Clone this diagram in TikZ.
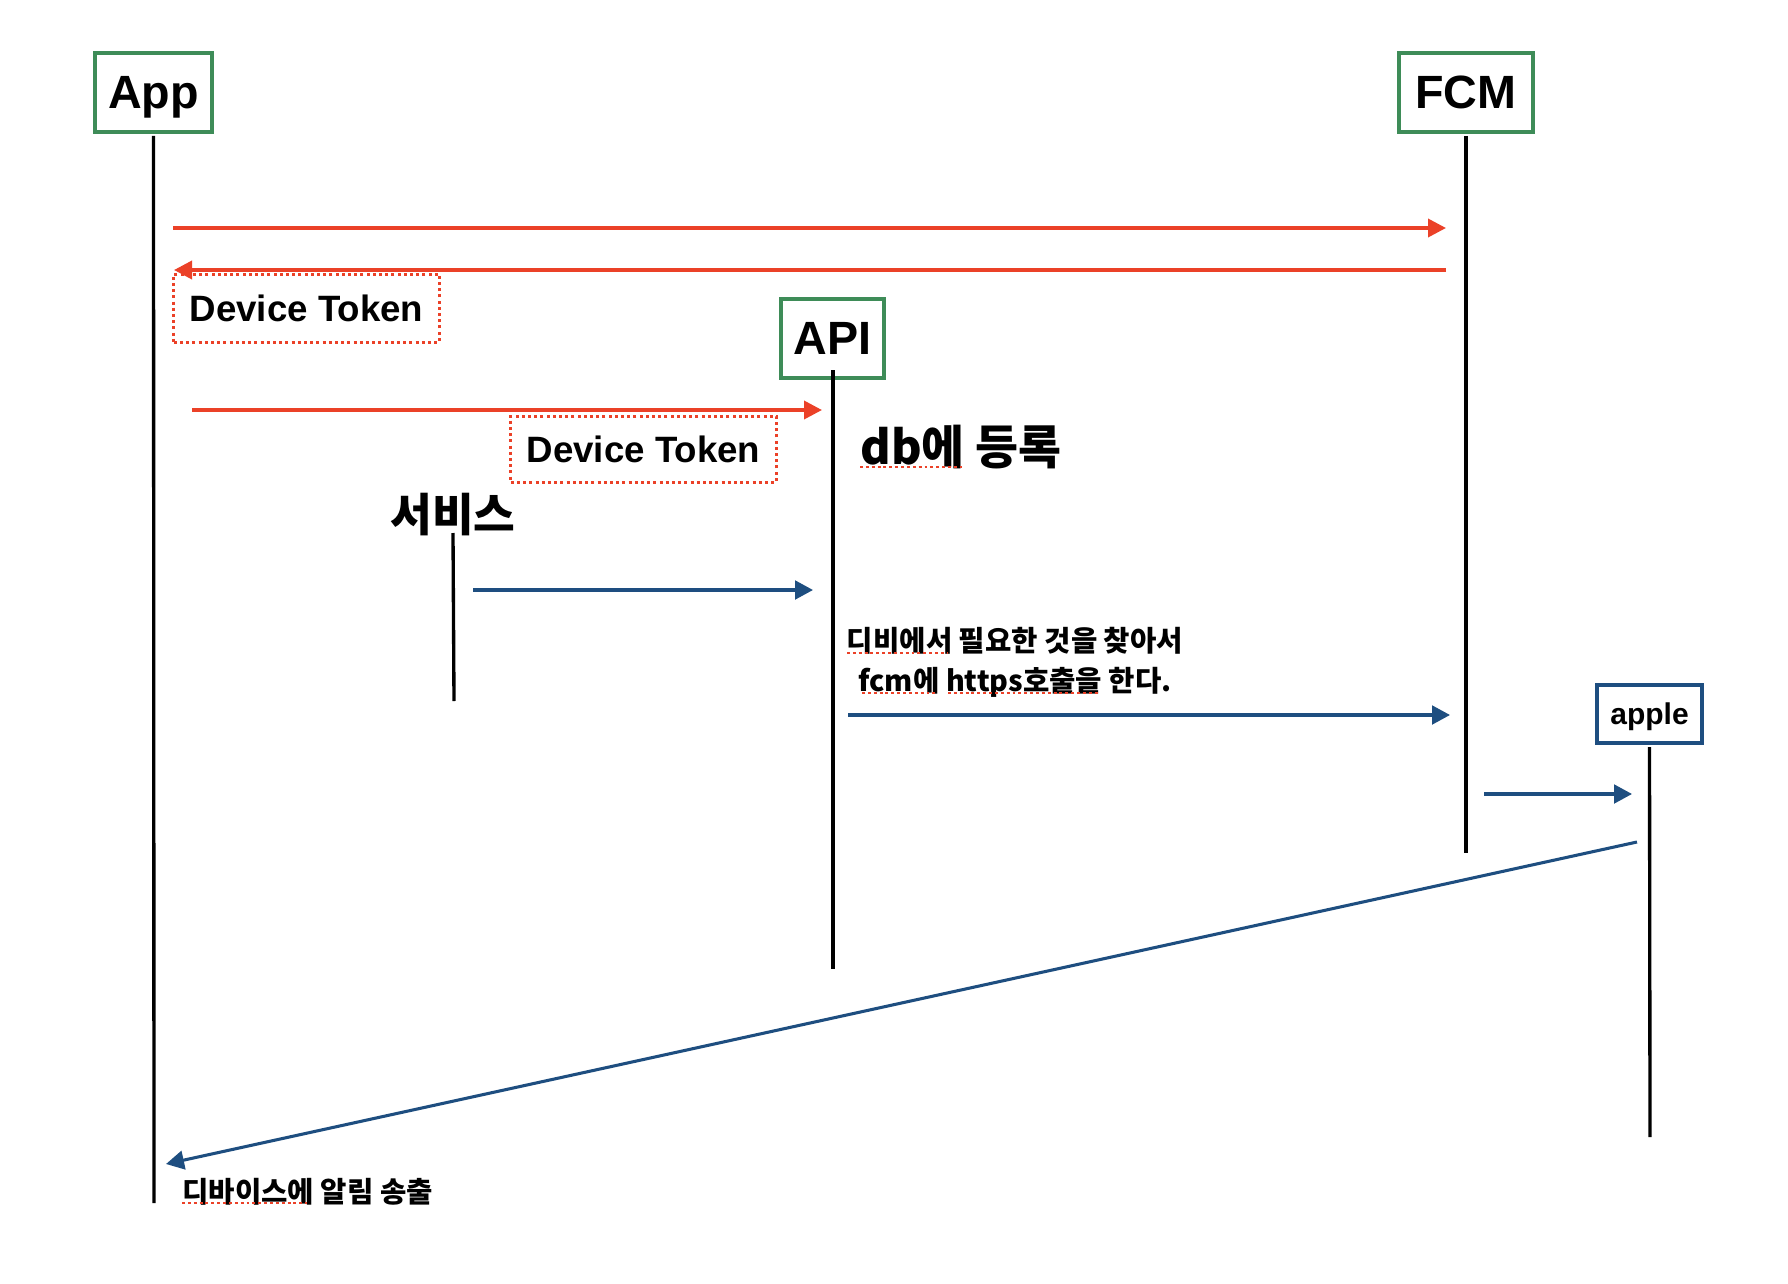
\documentclass[tikz,border=0pt]{standalone}
\usepackage{fontspec}
\setmainfont{Liberation Sans}
\newfontfamily\kr{Noto Sans CJK KR}
\usetikzlibrary{arrows.meta}

\definecolor{boxgreen}{RGB}{62,140,88}
\definecolor{tokred}{RGB}{235,65,40}
\definecolor{pushblue}{RGB}{30,78,128}

\tikzset{every picture/.style={line width=0.75pt}}
\tikzset{
  actor/.style={draw=boxgreen, line width=3pt, inner sep=0pt, text depth=0pt, font=\fontsize{35}{40}\selectfont\bfseries},
  tokenbox/.style={draw=tokred, line width=2.25pt, dash pattern=on 2.25pt off 2.4pt, inner sep=0pt, font=\fontsize{27.5}{32}\selectfont\bfseries},
  lifeline/.style={draw=black, line width=2.5pt},
  redmsg/.style={draw=tokred, line width=2.7pt, -{Triangle[length=13.5pt,width=13.5pt]}},
  bluemsg/.style={draw=pushblue, line width=2.3pt, -{Triangle[length=13.5pt,width=14pt]}},
  squiggle/.style={draw=tokred, line width=1.6pt, dash pattern=on 2.2pt off 2.2pt},
  krtext/.style={inner sep=0pt, font=\kr\bfseries\fontsize{21.5}{30}\selectfont},
}

\begin{document}
\begin{tikzpicture}[x=0.75pt,y=0.75pt,yscale=-1,xscale=1]
\useasboundingbox (0,0) rectangle (1788,1284);

%Shape: Rectangle [App]
\node [actor, minimum width=88pt, minimum height=59pt] (app) at (153.5,92.5) {App};
%Shape: Rectangle [FCM]
\node [actor, minimum width=100.5pt, minimum height=59pt] (fcm) at (1466,92.5) {FCM};
%Shape: Rectangle [API]
\node [actor, minimum width=77pt, minimum height=59pt] (api) at (832.5,338.5) {API};
%Shape: Rectangle [apple]
\node [actor, draw=pushblue, minimum width=79pt, minimum height=43.5pt, font=\fontsize{22.5}{26}\selectfont\bfseries] (apple) at (1649.5,714) {apple};
%Text Node [service]
\node [inner sep=0pt, font=\kr\bfseries\fontsize{34}{38}\selectfont] (svc) at (453,515) {서비스};

%Straight Lines [lifelines]
\coordinate (appEnd) at (154,1203);
\coordinate (fcmEnd) at (1466,853);
\coordinate (apiTop) at (833,370);
\coordinate (apiEnd) at (833,969);
\coordinate (svcEnd) at (454,701);
\coordinate (appleEnd) at (1650,1137);
\draw [lifeline] (app.south |- 0,136) -- (appEnd);
\draw [lifeline] (fcm.south |- 0,136) -- (fcmEnd);
\draw [lifeline] (apiTop) -- (apiEnd);
\draw [lifeline] (svc.south |- 0,533) -- (svcEnd);
\draw [lifeline] (apple.south |- 0,747) -- (appleEnd);

%Straight Lines [token request]
\coordinate (r1s) at (173,228);
\coordinate (r1e) at (1446,228);
\draw [redmsg] (r1s) -- (r1e);
%Straight Lines [token reply]
\coordinate (r2s) at (1446,270);
\coordinate (r2e) at (174,270);
\draw [redmsg] (r2s) -- (r2e);
%Shape: Rectangle [token 1]
\node [tokenbox, minimum width=199pt, minimum height=51pt] (tok1) at (306.5,308) {Device Token};

%Straight Lines [token to API]
\coordinate (r3s) at (192,410);
\coordinate (r3e) at (822,410);
\draw [redmsg] (r3s) -- (r3e);
%Shape: Rectangle [token 2]
\node [tokenbox, minimum width=199pt, minimum height=49.5pt] (tok2) at (643.5,449) {Device Token};

%Text Node [db]
\node [inner sep=0pt, anchor=west, font=\kr\bfseries\fontsize{35}{38}\selectfont] (dbreg) at (860,447) {db에 등록};
\draw [squiggle] (860,467) -- (962,467);

%Straight Lines [service to API]
\coordinate (b1s) at (473,590);
\coordinate (b1e) at (813,590);
\draw [bluemsg] (b1s) -- (b1e);

%Text Node [lookup]
\node [krtext, align=center] (lookup) at (1015,662) {디비에서 필요한 것을 찾아서\\fcm에 https호출을 한다.};
\draw [squiggle] (847,653) -- (948,653);
\draw [squiggle] (862,693) -- (938,693);
\draw [squiggle] (948,693) -- (1100,693);

%Straight Lines [API to FCM]
\coordinate (b2s) at (848,715);
\coordinate (b2e) at (1450,715);
\draw [bluemsg] (b2s) -- (b2e);
%Straight Lines [FCM to apple]
\coordinate (b3s) at (1484,794);
\coordinate (b3e) at (1632,794);
\draw [bluemsg] (b3s) -- (b3e);
%Straight Lines [apple to App]
\coordinate (b4s) at (1637,842);
\coordinate (b4e) at (166,1164);
\draw [bluemsg] (b4s) -- (b4e);

%Text Node [notify]
\node [krtext, anchor=west] (notify) at (182,1192) {디바이스에 알림 송출};
\draw [squiggle] (182,1203) -- (307,1203);

\end{tikzpicture}
\end{document}
